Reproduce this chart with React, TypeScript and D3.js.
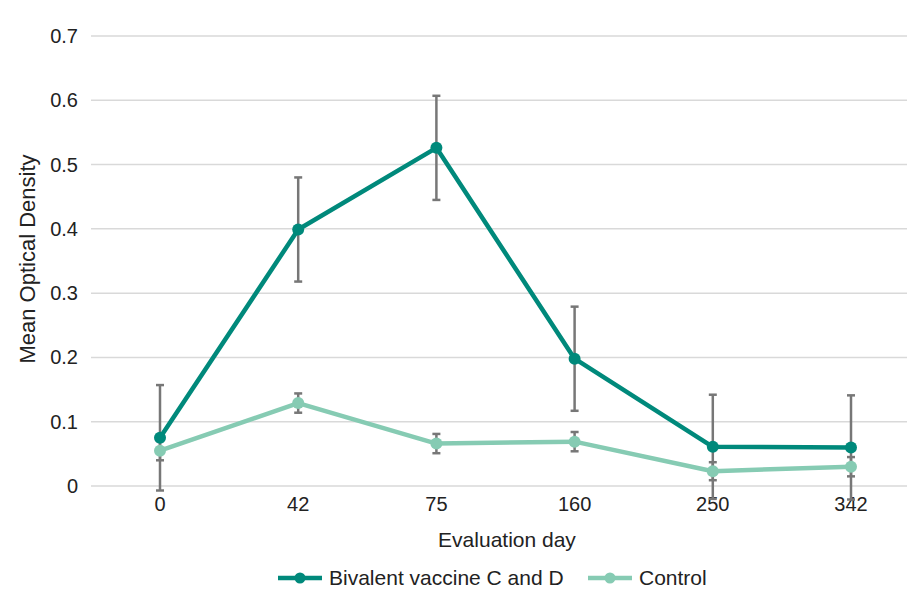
import * as d3 from 'd3';
import React, { useEffect, useRef } from 'react';

const days = ['0', '42', '75', '160', '250', '342'];
const vaccine = [0.075, 0.399, 0.526, 0.198, 0.061, 0.060];
const vaccineErr = [0.082, 0.081, 0.081, 0.081, 0.081, 0.081];
const control = [0.055, 0.129, 0.066, 0.069, 0.023, 0.030];
const controlErr = [0.015, 0.015, 0.015, 0.015, 0.014, 0.015];
const yTicks = [0, 0.1, 0.2, 0.3, 0.4, 0.5, 0.6, 0.7];

const W = 907;
const H = 589;
const FONT = '"Liberation Sans", Arial, sans-serif';

export default function App() {
  const ref = useRef<SVGSVGElement>(null);

  useEffect(() => {
    const svg = d3.select(ref.current);
    svg.selectAll('*').remove();

    const x = d3.scalePoint<string>().domain(days).range([160, 851]);
    const y = d3.scaleLinear().domain([0, 0.7]).range([486, 36]);

    // gridlines
    svg.append('g')
      .selectAll('line')
      .data(yTicks)
      .enter()
      .append('line')
      .attr('x1', 91)
      .attr('x2', 920)
      .attr('y1', d => y(d))
      .attr('y2', d => y(d))
      .attr('stroke', '#d9d9d9')
      .attr('stroke-width', 1.5);

    svg.append('g')
      .selectAll('text')
      .data(yTicks)
      .enter()
      .append('text')
      .attr('x', 78)
      .attr('y', d => y(d))
      .attr('dy', '0.35em')
      .attr('text-anchor', 'end')
      .attr('font-family', FONT)
      .attr('font-size', 20)
      .attr('fill', '#222')
      .text(d => (d === 0 ? '0' : d3.format('.1f')(d)));

    svg.append('g')
      .selectAll('text')
      .data(days)
      .enter()
      .append('text')
      .attr('x', d => x(d)!)
      .attr('y', 511)
      .attr('text-anchor', 'middle')
      .attr('font-family', FONT)
      .attr('font-size', 20)
      .attr('fill', '#222')
      .text(d => d);

    svg.append('text')
      .attr('x', 507)
      .attr('y', 547)
      .attr('text-anchor', 'middle')
      .attr('font-family', FONT)
      .attr('font-size', 21)
      .attr('fill', '#222')
      .text('Evaluation day');

    svg.append('text')
      .attr('transform', 'translate(35,259) rotate(-90)')
      .attr('text-anchor', 'middle')
      .attr('font-family', FONT)
      .attr('font-size', 22)
      .attr('fill', '#222')
      .text('Mean Optical Density');

    const series = [
      { name: 'Bivalent vaccine C and D', values: vaccine, err: vaccineErr, color: '#00897b' },
      { name: 'Control', values: control, err: controlErr, color: '#86cbb3' },
    ];

    const line = d3.line<number>()
      .x((d, i) => x(days[i])!)
      .y(d => y(d));

    series.forEach(s => {
      const eb = svg.append('g');
      s.values.forEach((v, i) => {
        const cx = x(days[i])!;
        const top = y(v + s.err[i]);
        const bot = y(v - s.err[i]);
        eb.append('line').attr('x1', cx).attr('x2', cx).attr('y1', top).attr('y2', bot)
          .attr('stroke', '#777').attr('stroke-width', 2.5);
        [top, bot].forEach(yy => {
          eb.append('line').attr('x1', cx - 4).attr('x2', cx + 4).attr('y1', yy).attr('y2', yy)
            .attr('stroke', '#777').attr('stroke-width', 2.5);
        });
      });
    });

    series.forEach(s => {
      svg.append('path')
        .datum(s.values)
        .attr('d', line)
        .attr('fill', 'none')
        .attr('stroke', s.color)
        .attr('stroke-width', 4.5)
        .attr('stroke-linejoin', 'round');
      svg.append('g')
        .selectAll('circle')
        .data(s.values)
        .enter()
        .append('circle')
        .attr('cx', (d, i) => x(days[i])!)
        .attr('cy', d => y(d))
        .attr('r', 6)
        .attr('fill', s.color);
    });

    // legend
    const legendX = [278, 588];
    series.forEach((s, i) => {
      const g = svg.append('g').attr('transform', `translate(${legendX[i]},578)`);
      g.append('line').attr('x1', 0).attr('x2', 44).attr('y1', 0).attr('y2', 0)
        .attr('stroke', s.color).attr('stroke-width', 4.5);
      g.append('circle').attr('cx', 22).attr('cy', 0).attr('r', 5.5).attr('fill', s.color);
      g.append('text')
        .attr('x', 51)
        .attr('y', 0)
        .attr('dy', '0.35em')
        .attr('font-family', FONT)
        .attr('font-size', 21)
        .attr('fill', '#222')
        .text(s.name);
    });
  }, []);

  return (
    <svg
      ref={ref}
      width={W}
      height={H}
      style={{ position: 'absolute', top: 0, left: 0, background: '#fff', display: 'block' }}
    />
  );
}
